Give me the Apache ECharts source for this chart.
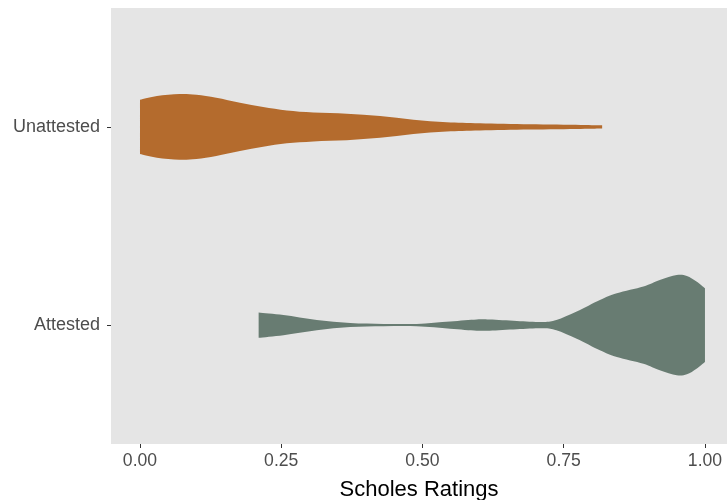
<!DOCTYPE html>
<html>
<head>
<meta charset="utf-8">
<script src="https://cdn.jsdelivr.net/npm/echarts@6/dist/echarts.min.js"></script>
<style>html,body{margin:0;padding:0;background:#fff;}#chart{width:727px;height:500px;}</style>
</head>
<body>
<div id="chart"></div>
<script>
// Categories (top to bottom)
const categories = ['Unattested', 'Attested'];
const xTicks = [0, 0.25, 0.5, 0.75, 1.0];

// Violin outlines: rating positions and half-widths (in category-axis units)
const unattestedX  = [0.0, 0.03, 0.07, 0.10, 0.135, 0.177, 0.218, 0.26, 0.307, 0.366, 0.425, 0.484, 0.543, 0.602, 0.69, 0.78, 0.818];
const unattestedHW = [0.137, 0.156, 0.166, 0.162, 0.147, 0.122, 0.100, 0.083, 0.073, 0.067, 0.055, 0.036, 0.023, 0.018, 0.013, 0.010, 0.008];

const attestedX  = [0.21, 0.254, 0.313, 0.372, 0.431, 0.49, 0.549, 0.596, 0.619, 0.667, 0.714, 0.737, 0.773, 0.814, 0.844, 0.891, 0.920, 0.950, 0.968, 0.985, 1.0];
const attestedHW = [0.064, 0.051, 0.026, 0.010, 0.006, 0.006, 0.018, 0.028, 0.028, 0.021, 0.016, 0.026, 0.069, 0.127, 0.161, 0.195, 0.228, 0.253, 0.248, 0.220, 0.186];

const colors = ['#B46B2D', '#687C72'];
const violins = [
  { x: unattestedX, hw: unattestedHW },
  { x: attestedX, hw: attestedHW }
];

// Smooth curve segment commands (Catmull-Rom -> cubic Bezier) through screen points
function curveThrough(p) {
  let d = '';
  for (let i = 0; i < p.length - 1; i++) {
    const p0 = p[Math.max(i - 1, 0)], p1 = p[i], p2 = p[i + 1], p3 = p[Math.min(i + 2, p.length - 1)];
    const t = 1 / 6;
    const c1 = [p1[0] + (p2[0] - p0[0]) * t, p1[1] + (p2[1] - p0[1]) * t];
    const c2 = [p2[0] - (p3[0] - p1[0]) * t, p2[1] - (p3[1] - p1[1]) * t];
    d += ' C' + c1[0] + ',' + c1[1] + ' ' + c2[0] + ',' + c2[1] + ' ' + p2[0] + ',' + p2[1];
  }
  return d;
}

const chart = echarts.init(document.getElementById('chart'));
const font = 'Liberation Sans, Arial, Helvetica, sans-serif';

chart.setOption({
  animation: false,
  backgroundColor: '#ffffff',
  grid: {
    left: 111, right: 0, top: 8, bottom: 56,
    containLabel: false,
    outerBoundsMode: 'none',
    show: true, backgroundColor: '#E5E5E5', borderWidth: 0
  },
  xAxis: {
    type: 'value',
    min: -0.0513, max: 1.039,
    splitLine: { show: false },
    axisLine: { show: false, onZero: false },
    axisTick: { show: true, length: 4, customValues: xTicks, lineStyle: { color: '#333333', width: 1 } },
    axisLabel: {
      customValues: xTicks,
      formatter: v => Number(v).toFixed(2),
      fontSize: 17.6, color: '#4D4D4D', fontFamily: font, margin: 8
    },
    name: 'Scholes Ratings',
    nameLocation: 'middle',
    nameGap: 35,
    nameTextStyle: { fontSize: 22, color: '#000000', fontFamily: font }
  },
  yAxis: {
    type: 'value',
    inverse: true,
    min: 0.4, max: 2.6,
    splitLine: { show: false },
    axisLine: { show: false, onZero: false },
    axisTick: { show: true, length: 4, customValues: [1, 2], lineStyle: { color: '#333333', width: 1 } },
    axisLabel: {
      customValues: [1, 2],
      formatter: v => categories[Math.round(v) - 1] || '',
      fontSize: 18, color: '#4D4D4D', fontFamily: font, margin: 11,
      padding: [4, 0, 0, 0]
    }
  },
  series: [{
    type: 'custom',
    coordinateSystem: 'cartesian2d',
    data: categories.map((c, i) => [i, i + 1]),
    encode: { x: 0, y: 1 },
    renderItem: function (params, api) {
      const i = params.dataIndex;
      const v = violins[i];
      const c = i + 1;
      const top = [], bot = [];
      for (let k = 0; k < v.x.length; k++) {
        top.push(api.coord([v.x[k], c - v.hw[k]]));
        bot.push(api.coord([v.x[k], c + v.hw[k]]));
      }
      bot.reverse();
      let d = 'M' + top[0][0] + ',' + top[0][1] + curveThrough(top);
      d += ' L' + bot[0][0] + ',' + bot[0][1] + curveThrough(bot) + ' Z';
      return {
        type: 'path',
        shape: { pathData: d },
        style: { fill: colors[i], stroke: null }
      };
    }
  }]
});
</script>
</body>
</html>
